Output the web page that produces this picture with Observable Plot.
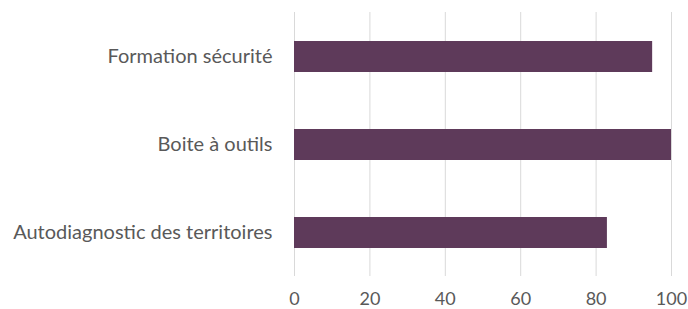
<!DOCTYPE html>
<html>
<head>
<meta charset="utf-8">
<script src="https://cdn.jsdelivr.net/npm/d3@7"></script>
<script src="https://cdn.jsdelivr.net/npm/@observablehq/plot@0.6"></script>
<style>
  html, body { margin: 0; padding: 0; background: #fff; }
  #chart svg { display: block; }
</style>
</head>
<body>
<div id="chart"></div>
<script>
const categories = ["Formation sécurité", "Boite à outils", "Autodiagnostic des territoires"];
const values = [95, 100, 83];
const xTicks = [0, 20, 40, 60, 80, 100];

const data = categories.map((c, i) => ({category: c, value: values[i]}));

const chart = Plot.plot({
  width: 688,
  height: 309,
  marginLeft: 294,
  marginRight: 17,
  marginTop: 12,
  marginBottom: 33,
  style: {fontFamily: "Lato, 'Open Sans', sans-serif", fontSize: "18px", color: "#595959", background: "#fff"},
  x: {domain: [0, 100], ticks: xTicks, label: null},
  y: {domain: categories, padding: 0.65, paddingOuter: 0.325, label: null},
  marks: [
    Plot.gridX(xTicks, {stroke: "#d9d9d9", strokeOpacity: 1, strokeWidth: 1}),
    Plot.barX(data, {x: "value", y: "category", fill: "#5e3a5a"}),
    Plot.axisX({ticks: xTicks, tickSize: 0, tickPadding: 16, label: null, fontSize: 18}),
    Plot.axisY({tickSize: 0, tickPadding: 22, label: null, fontSize: 20})
  ]
});
document.getElementById("chart").appendChild(chart);
</script>
</body>
</html>
